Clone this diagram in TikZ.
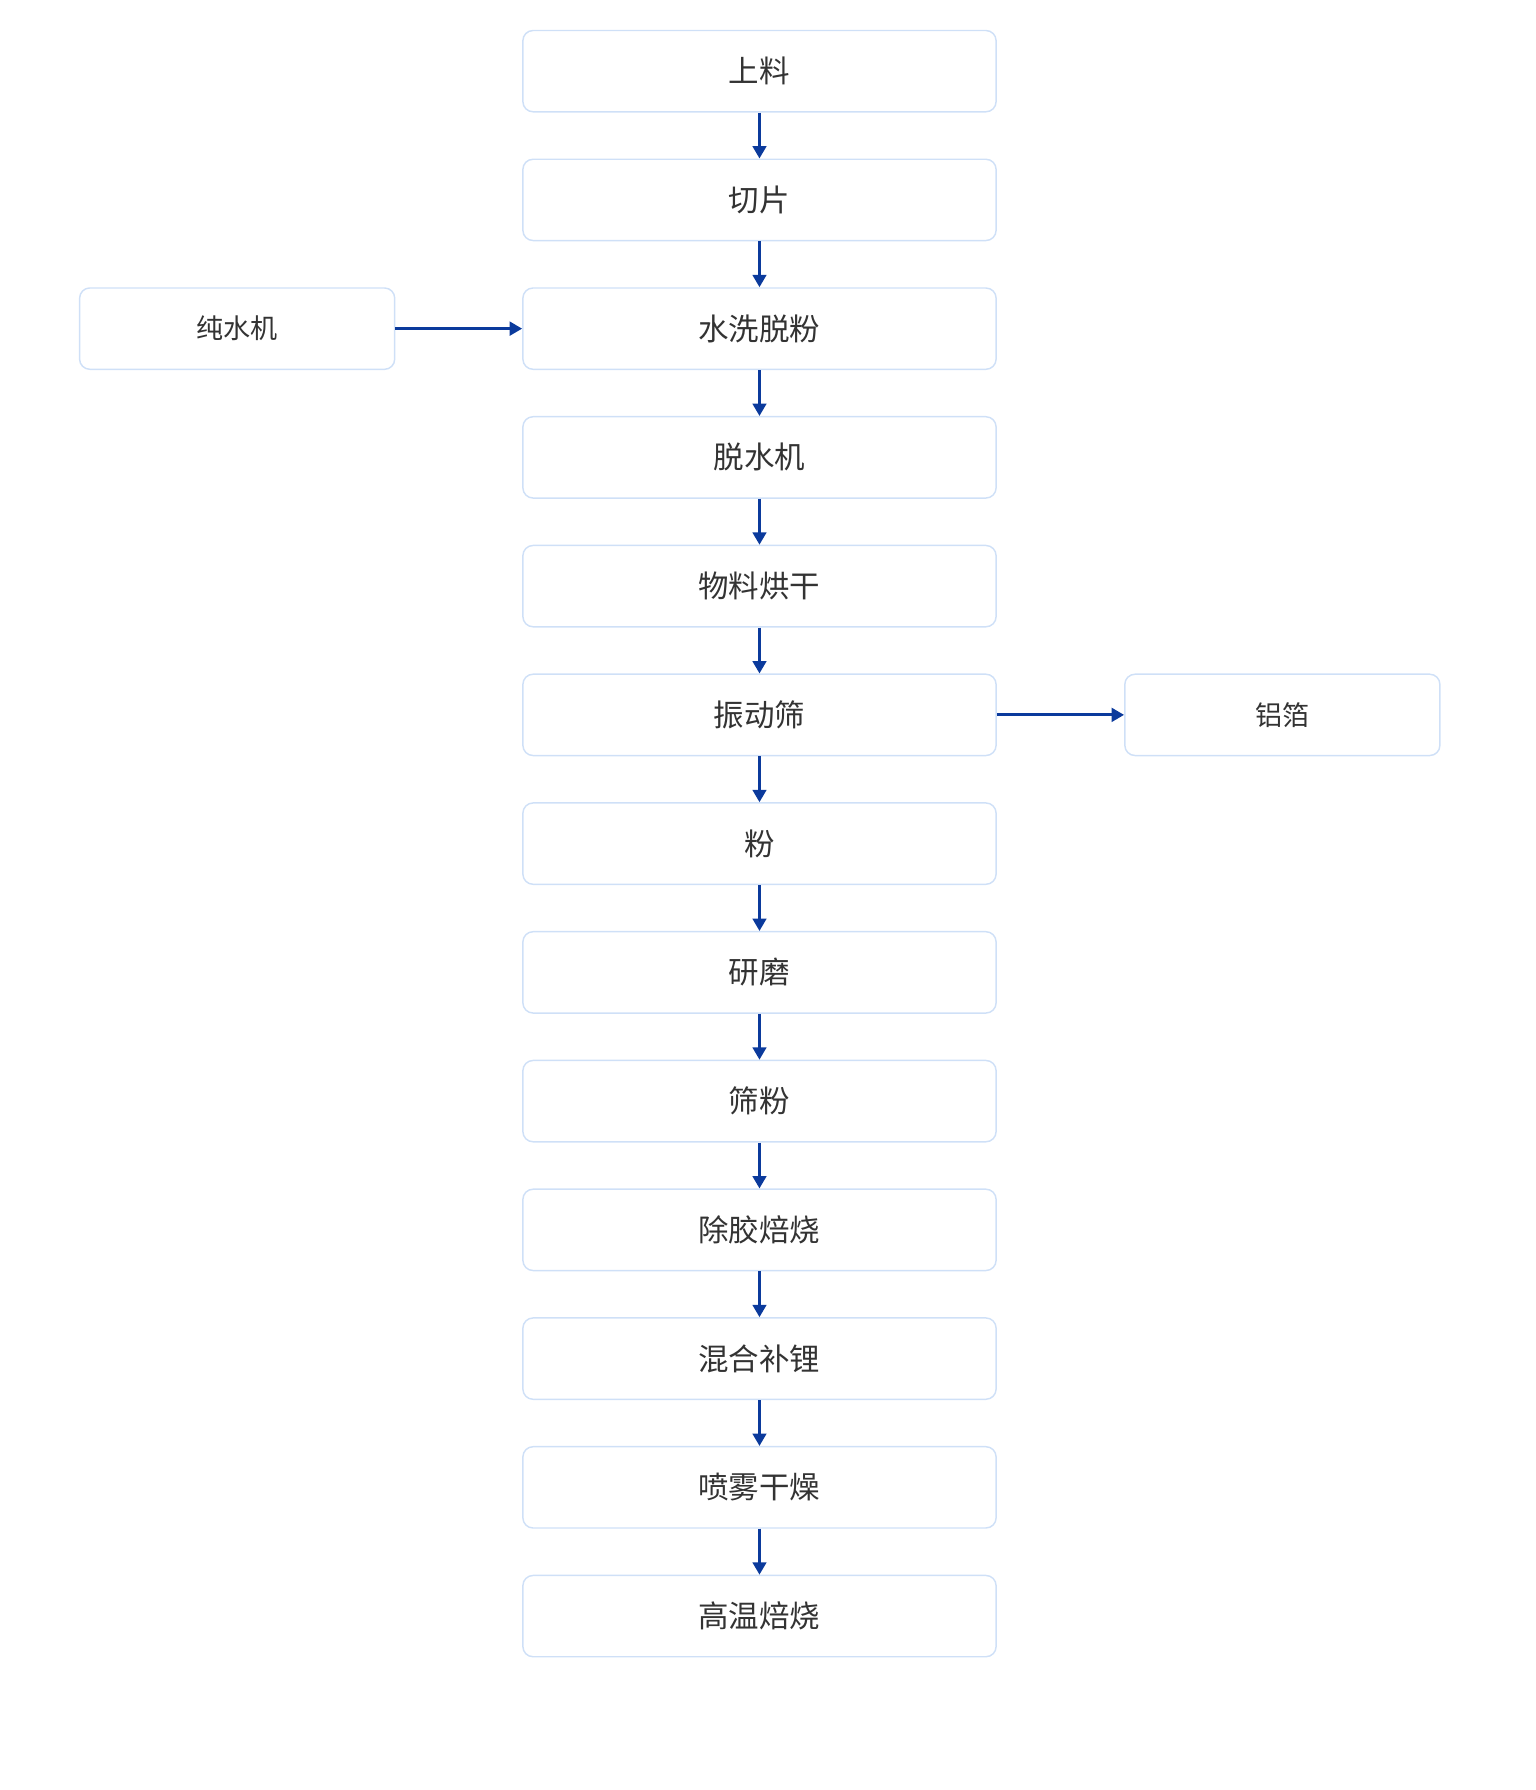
\documentclass[tikz,border=0pt]{standalone}
\usepackage{fontspec}
\setmainfont{Noto Sans CJK SC}
\usetikzlibrary{arrows.meta}
\definecolor{bd}{HTML}{CFE0F7}
\definecolor{ar}{HTML}{0B3A9C}
\definecolor{tx}{HTML}{333333}
\begin{document}
\begin{tikzpicture}[x=1pt,y=-1pt,
 box/.style={draw=bd,line width=1.3pt,rounded corners=9pt,minimum width=419pt,minimum height=72pt,inner sep=0pt,text=tx,font=\fontsize{27}{30}\selectfont},
 side/.style={box,minimum width=279pt,font=\fontsize{24}{28}\selectfont},
 arr/.style={draw=ar,line width=2.6pt,-{Triangle[length=11pt,width=12pt]}}]
\useasboundingbox (0,0) rectangle (1360,1585);
\foreach \n/\t [count=\i from 0] in {a/上料,b/切片,c/水洗脱粉,d/脱水机,e/物料烘干,f/振动筛,g/粉,h/研磨,i/筛粉,j/除胶焙烧,k/混合补锂,l/喷雾干燥,m/高温焙烧}{
 \node[box] (\n) at (672.5,{63+114*\i}) {\t};
}
\node[side] (w) at (210,291) {纯水机};
\node[side] (al) at (1135.5,633) {铝箔};
\foreach \p/\q in {a/b,b/c,c/d,d/e,e/f,f/g,g/h,h/i,i/j,j/k,k/l,l/m}{\draw[arr] (\p) -- (\q);}
\draw[arr] (w) -- (c);
\draw[arr] (f) -- (al);
\end{tikzpicture}
\end{document}
